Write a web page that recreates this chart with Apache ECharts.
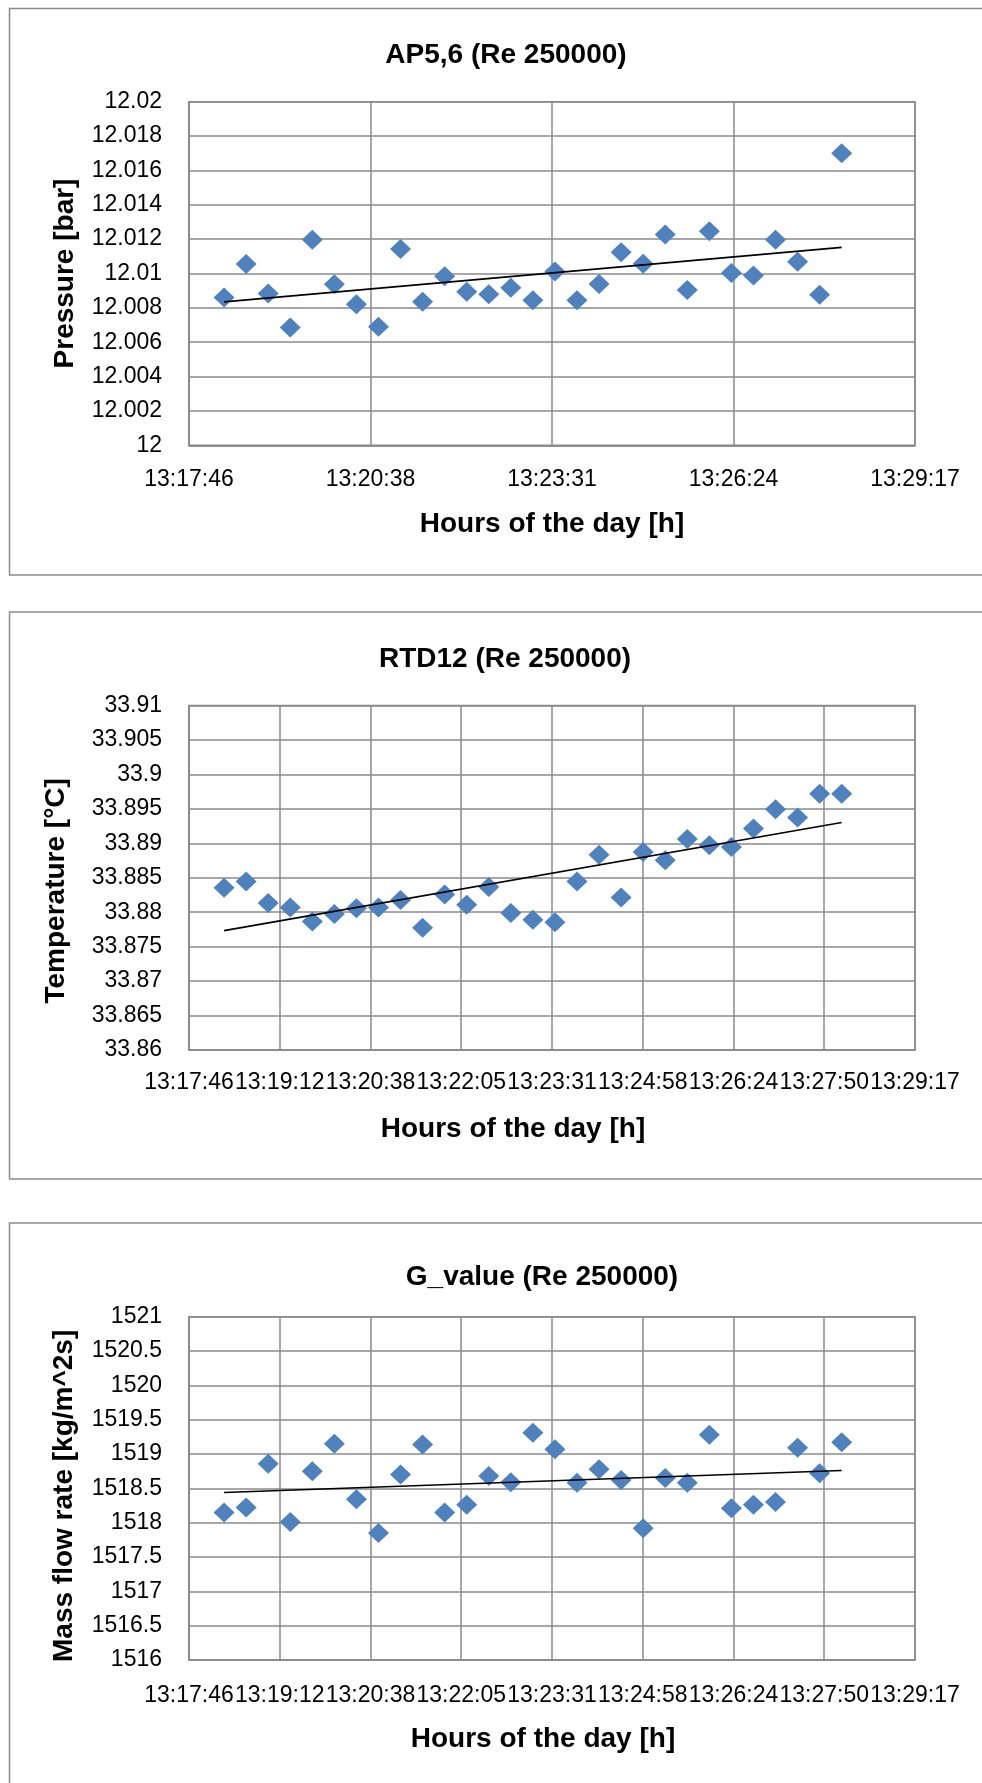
<!DOCTYPE html>
<html>
<head>
<meta charset="utf-8">
<script src="https://cdn.jsdelivr.net/npm/echarts@6/dist/echarts.min.js"></script>
<style>
html,body{margin:0;padding:0;background:#fff;}
#c{width:982px;height:1783px;}
</style>
</head>
<body>
<div id="c"></div>
<script>
// ---- data ----
const times = ['13:18:19','13:18:40','13:19:01','13:19:22','13:19:43','13:20:04','13:20:25','13:20:46',
  '13:21:07','13:21:28','13:21:49','13:22:10','13:22:31','13:22:52','13:23:13','13:23:34','13:23:55',
  '13:24:16','13:24:37','13:24:58','13:25:19','13:25:40','13:26:01','13:26:22','13:26:43','13:27:04',
  '13:27:25','13:27:46','13:28:07'];
const ap56 = [12.00861,12.01055,12.00883,12.00685,12.01197,12.00937,12.00821,12.00690,12.01143,12.00836,
  12.00984,12.00894,12.00879,12.00917,12.00844,12.01012,12.00844,12.00939,12.01124,12.01057,12.01227,
  12.00904,12.01246,12.01003,12.00988,12.01197,12.01068,12.00876,12.01700];
const rtd12 = [33.88355,33.88446,33.88134,33.88070,33.87866,33.87973,33.88059,33.88070,33.88177,33.87774,
  33.88258,33.88108,33.88366,33.87989,33.87892,33.87855,33.88446,33.88833,33.88215,33.88876,33.88753,
  33.89065,33.88973,33.88946,33.89215,33.89495,33.89376,33.89720,33.89720];
const gValue = [1518.15,1518.22,1518.86,1518.01,1518.75,1519.15,1518.34,1517.85,1518.70,1519.14,
  1518.15,1518.26,1518.68,1518.59,1519.31,1519.07,1518.58,1518.78,1518.62,1517.92,1518.65,1518.58,
  1519.28,1518.21,1518.26,1518.30,1519.09,1518.72,1519.17];

const chartTitles = ['AP5,6 (Re 250000)', 'RTD12 (Re 250000)', 'G_value (Re 250000)'];
const yNames = ['Pressure [bar]', 'Temperature [°C]', 'Mass flow rate [kg/m^2s]'];
const xName = 'Hours of the day [h]';
const yMin = [12, 33.86, 1516];
const yMax = [12.02, 33.91, 1521];
const yStep = [0.002, 0.005, 0.5];
const xMinDay = 0.554, xMaxDay = 0.562;
const xStepDay = [0.002, 0.001, 0.001];

// ---- helpers ----
const DAY = 86400;
function toSec(t){ const p = t.split(':').map(Number); return p[0]*3600 + p[1]*60 + p[2]; }
function fmtTime(v){
  let s = Math.round(v);
  const h = Math.floor(s/3600); s -= h*3600;
  const m = Math.floor(s/60); s -= m*60;
  const pad = n => (n < 10 ? '0' : '') + n;
  return h + ':' + pad(m) + ':' + pad(s);
}
function fmtNum(v){ return String(+(+v).toFixed(5)); }
const xs = times.map(toSec);
function trend(ys){
  const n = xs.length;
  let sx=0, sy=0, sxx=0, sxy=0;
  for (let i=0;i<n;i++){ sx+=xs[i]; sy+=ys[i]; sxx+=xs[i]*xs[i]; sxy+=xs[i]*ys[i]; }
  const mx = sx/n, my = sy/n;
  const b = (sxy - n*mx*my)/(sxx - n*mx*mx);
  const a = my - b*mx;
  return [[xs[0], a + b*xs[0]], [xs[n-1], a + b*xs[n-1]]];
}

const seriesData = [ap56, rtd12, gValue];
const gridTops = [101.7, 705.6, 1316.7];
const gridH = [343.6, 344.4, 343.3];
const titleTops = [36, 640, 1258];
const titleX = [501, 500, 537];
const xLabelMargin = [23, 21, 24];
const xNamePad = [[0,0,0,0],[0,78,0,0],[0,18,0,0]];
const yNameGap = [110, 119, 111];
const yNamePad = [[0,0,0,0],[0,26,0,0],[0,15,0,0]];
const boxes = [[9.5, 8.5, 566.5], [9.5, 612, 567], [9.5, 1223, 620]];

const gridCol = '#8a8a8a';
const FONT = 'Liberation Sans, Arial, sans-serif';

const grids = [], xAxes = [], yAxes = [], series = [], titles = [], graphics = [];
for (let i=0;i<3;i++){
  grids.push({left:189, right:67, top:gridTops[i], height:gridH[i], show:true,
    borderColor:gridCol, borderWidth:1.5, backgroundColor:'transparent'});
  xAxes.push({type:'value', gridIndex:i, min:xMinDay*DAY, max:xMaxDay*DAY, interval:xStepDay[i]*DAY,
    name:xName, nameLocation:'middle', nameGap:65,
    nameTextStyle:{fontFamily:FONT, fontWeight:'bold', fontSize:28, color:'#000', padding:xNamePad[i]},
    axisLine:{show:true, lineStyle:{color:gridCol, width:1.5}}, axisTick:{show:false},
    axisLabel:{formatter:fmtTime, fontFamily:FONT, fontSize:23, color:'#000', margin:xLabelMargin[i],
      showMinLabel:true, showMaxLabel:true, hideOverlap:false},
    splitLine:{show:true, lineStyle:{color:gridCol, width:1.5}}});
  yAxes.push({type:'value', gridIndex:i, min:yMin[i], max:yMax[i], interval:yStep[i],
    name:yNames[i], nameLocation:'middle', nameRotate:90, nameGap:yNameGap[i],
    nameTextStyle:{fontFamily:FONT, fontWeight:'bold', fontSize:28, color:'#000', padding:yNamePad[i]},
    axisLine:{show:true, lineStyle:{color:gridCol, width:1.5}}, axisTick:{show:false},
    axisLabel:{formatter:fmtNum, fontFamily:FONT, fontSize:23, color:'#000', margin:27,
      showMinLabel:true, showMaxLabel:true},
    splitLine:{show:true, lineStyle:{color:gridCol, width:1.5}}});
  series.push({type:'scatter', xAxisIndex:i, yAxisIndex:i, symbol:'diamond', symbolSize:[21,20],
    itemStyle:{color:'#4F81BD', opacity:1}, data: xs.map((x,k)=>[x, seriesData[i][k]]), z:3,
    emphasis:{disabled:true}});
  series.push({type:'line', xAxisIndex:i, yAxisIndex:i, showSymbol:false, symbol:'none',
    lineStyle:{color:'#000', width:1.6}, data: trend(seriesData[i]), z:4, silent:true});
  titles.push({text:chartTitles[i], left:titleX[i], top:titleTops[i], textAlign:'center',
    textStyle:{fontFamily:FONT, fontWeight:'bold', fontSize:28, color:'#000'}});
  graphics.push({type:'rect', shape:{x:boxes[i][0], y:boxes[i][1], width:1000, height:boxes[i][2]},
    style:{fill:'none', stroke:'#8c8c8c', lineWidth:1.5}, z:-10, silent:true});
}

const chart = echarts.init(document.getElementById('c'), null, {renderer:'canvas'});
chart.setOption({
  backgroundColor:'#fff',
  animation:false,
  title:titles,
  grid:grids,
  xAxis:xAxes,
  yAxis:yAxes,
  series:series,
  graphic:graphics
});
</script>
</body>
</html>
